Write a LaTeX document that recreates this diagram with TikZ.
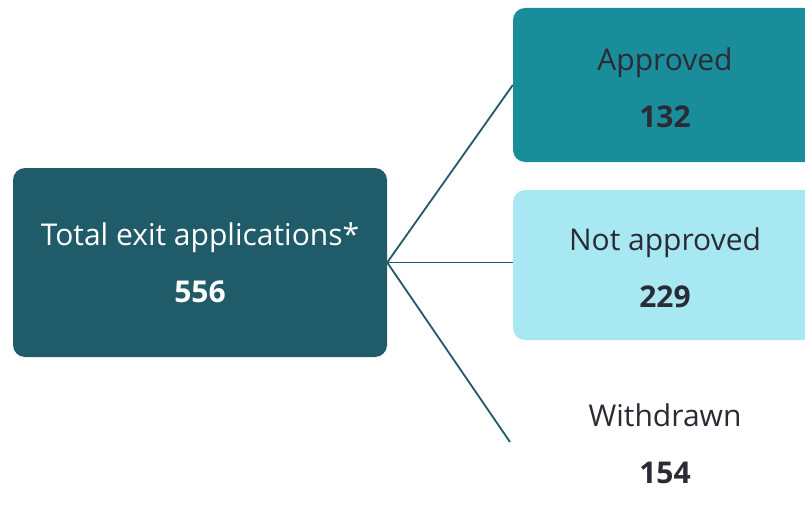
\documentclass[tikz,border=0pt]{standalone}
\usepackage{fontspec}
\setmainfont{Open Sans}
\usepackage{tikz}

\definecolor{darkteal}{HTML}{1F5B68}
\definecolor{midteal}{HTML}{1A8D9B}
\definecolor{lightcyan}{HTML}{A8E8F2}
\definecolor{inkgrey}{HTML}{2B2B36}

\tikzset{
  box/.style={rounded corners=12pt, align=center, font=\fontsize{30}{57}\selectfont},
  label/.style={text=inkgrey, align=center, font=\fontsize{30}{57}\selectfont},
  link/.style={draw=darkteal, line width=1.8pt}
}

\begin{document}
\begin{tikzpicture}[x=1pt, y=1pt]
  \useasboundingbox (0,0) rectangle (805,507);
  \clip (0,0) rectangle (805,507);

  \node[box, fill=darkteal, text=white, minimum width=374pt, minimum height=189pt] (total) at (200,244.5) {Total exit applications*\\\textbf{556}};

  \node[box, fill=midteal, minimum width=320pt, minimum height=154pt] (approved) at (673,422) {};
  \node[label] at (665,419) {Approved\\\textbf{132}};

  \node[box, fill=lightcyan, minimum width=320pt, minimum height=150pt] (notapproved) at (673,242) {};
  \node[label] at (665,239) {Not approved\\\textbf{229}};

  \node[label] (withdrawn) at (665,63) {Withdrawn\\\textbf{154}};
  \coordinate (wdend) at (510,65);

  \draw[link] (total.east) -- (approved.west);
  \draw[link] (total.east) -- (total.east -| notapproved.west);
  \draw[link] (total.east) -- (wdend);
\end{tikzpicture}
\end{document}
